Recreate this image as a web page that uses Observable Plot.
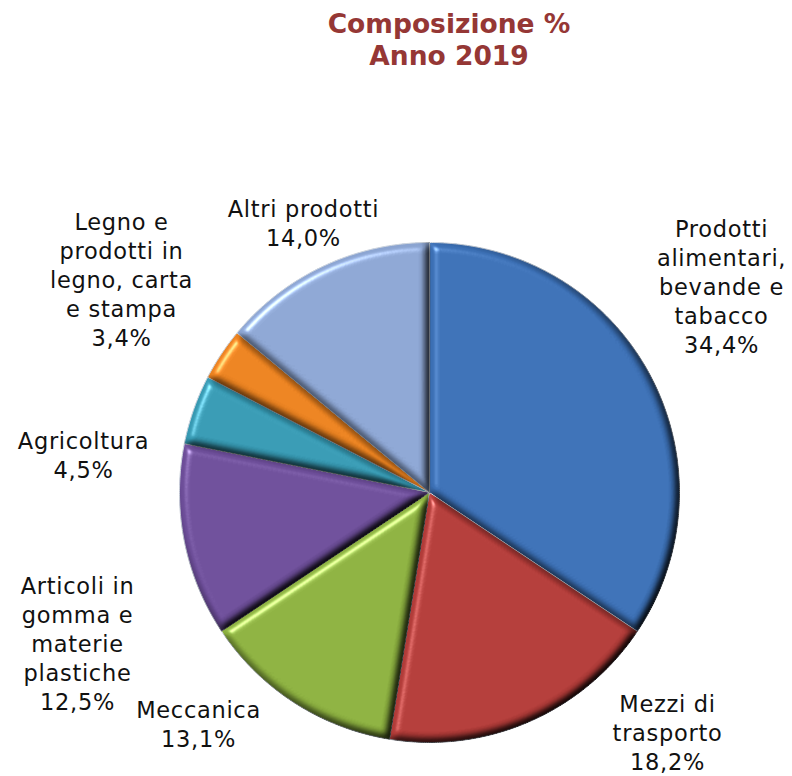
<!DOCTYPE html>
<html><head><meta charset="utf-8">
<script src="https://cdn.jsdelivr.net/npm/d3@7"></script>
<script src="https://cdn.jsdelivr.net/npm/@observablehq/plot@0.6"></script>
<style>
body{margin:0;background:#fff;}
#title{box-sizing:border-box;height:80px;padding-top:8px;padding-left:106px;width:792px;text-align:center;font:bold 26.5px/32px "DejaVu Sans",sans-serif;color:#953735;}
#chart svg{display:block;}
</style></head><body>
<div id="title">Composizione %<br>Anno 2019</div>
<div id="chart"></div>
<script>
// ---- data ----
const categories = [
  "Prodotti alimentari, bevande e tabacco",
  "Mezzi di trasporto",
  "Meccanica",
  "Articoli in gomma e materie plastiche",
  "Agricoltura",
  "Legno e prodotti in legno, carta e stampa",
  "Altri prodotti"
];
const values = [34.4, 18.2, 13.1, 12.5, 4.5, 3.4, 14.0];
const labelLines = [
  ["Prodotti", "alimentari,", "bevande e", "tabacco"],
  ["Mezzi di", "trasporto"],
  ["Meccanica"],
  ["Articoli in", "gomma e", "materie", "plastiche"],
  ["Agricoltura"],
  ["Legno e", "prodotti in", "legno, carta", "e stampa"],
  ["Altri prodotti"]
];
// ---- style ----
const colors = ["#3A6EB3", "#B03A37", "#8AAE3E", "#6B4C97", "#3597B0", "#E8801E", "#8AA3D0"];
const labelOffsets = [[71.6, -158.1], [138.1, -30.2], [-95.8, -5.3], [-106.8, 32.3], [-110.1, 18.8], [-99.6, -144.8], [-19.7, -69.7]];
const W = 792, H = 696, cx = 429, cy = 412, R = 250;

const pie = d3.pie().sort(null).value(d => d.value).startAngle(0).endAngle(2 * Math.PI);
const rows = categories.map((c, i) => ({category: c, value: values[i], color: colors[i], lines: labelLines[i], off: labelOffsets[i]}));
const arcs = pie(rows);

function slicePoints(a) {
  const pts = [{x: 0, y: 0}];
  const n = Math.max(8, Math.ceil((a.endAngle - a.startAngle) / (Math.PI / 360)));
  for (let k = 0; k <= n; k++) {
    const t = a.startAngle + (a.endAngle - a.startAngle) * k / n;
    pts.push({x: Math.sin(t), y: Math.cos(t)});
  }
  return pts;
}
const sliceMark = a => Plot.line(slicePoints(a), {x: "x", y: "y", curve: "linear-closed", fill: a.data.color, stroke: "#cfd6df", strokeWidth: 1});
const baseMarks = arcs.map(sliceMark);
const bevelMarks = arcs.map(sliceMark);

const fmt = v => d3.format(".1f")(v).replace(".", ",") + "%";
const labels = arcs.map(a => {
  const m = (a.startAngle + a.endAngle) / 2;
  return {
    x: Math.sin(m) + a.data.off[0] / R,
    y: Math.cos(m) - a.data.off[1] / R,
    text: a.data.lines.join("\n") + "\n" + fmt(a.data.value)
  };
});

const chart = Plot.plot({
  width: W, height: H,
  margin: 0,
  x: {domain: [-cx / R, (W - cx) / R], axis: null},
  y: {domain: [-(H - cy) / R, cy / R], axis: null},
  style: {fontFamily: "'DejaVu Sans', sans-serif", letterSpacing: "0.7px", background: "#fff"},
  marks: [
    ...baseMarks,
    ...bevelMarks,
    Plot.text(labels, {x: "x", y: "y", text: "text", fontSize: 22.5, lineHeight: 1.29, lineAnchor: "top", textAnchor: "middle", fill: "#111"})
  ]
});

// bevel lighting filter (shading + highlight)
const ns = "http://www.w3.org/2000/svg";
const defs = document.createElementNS(ns, "defs");
defs.innerHTML = `
<filter id="bevel" x="-10%" y="-10%" width="120%" height="120%" color-interpolation-filters="sRGB">
  <feGaussianBlur in="SourceAlpha" stdDeviation="4.5" result="blur"/>
  <feDiffuseLighting in="blur" surfaceScale="7" diffuseConstant="1.18" lighting-color="#ffffff" result="diff">
    <feDistantLight azimuth="225" elevation="58"/>
  </feDiffuseLighting>
  <feComposite in="SourceGraphic" in2="diff" operator="arithmetic" k1="1" k2="0" k3="0" k4="0" result="lit"/>
  <feSpecularLighting in="blur" surfaceScale="7" specularConstant="0.55" specularExponent="30" lighting-color="#ffffff" result="spec">
    <feDistantLight azimuth="225" elevation="40"/>
  </feSpecularLighting>
  <feComposite in="lit" in2="spec" operator="arithmetic" k1="0" k2="1" k3="0.8" k4="0" result="sum"/>
  <feComposite in="sum" in2="SourceAlpha" operator="in"/>
</filter>`;
chart.insertBefore(defs, chart.firstChild);
const lineGroups = chart.querySelectorAll('g[aria-label="line"]');
lineGroups.forEach((g, i) => { if (i >= arcs.length) g.setAttribute("filter", "url(#bevel)"); });
document.getElementById("chart").appendChild(chart);
</script>
</body></html>
